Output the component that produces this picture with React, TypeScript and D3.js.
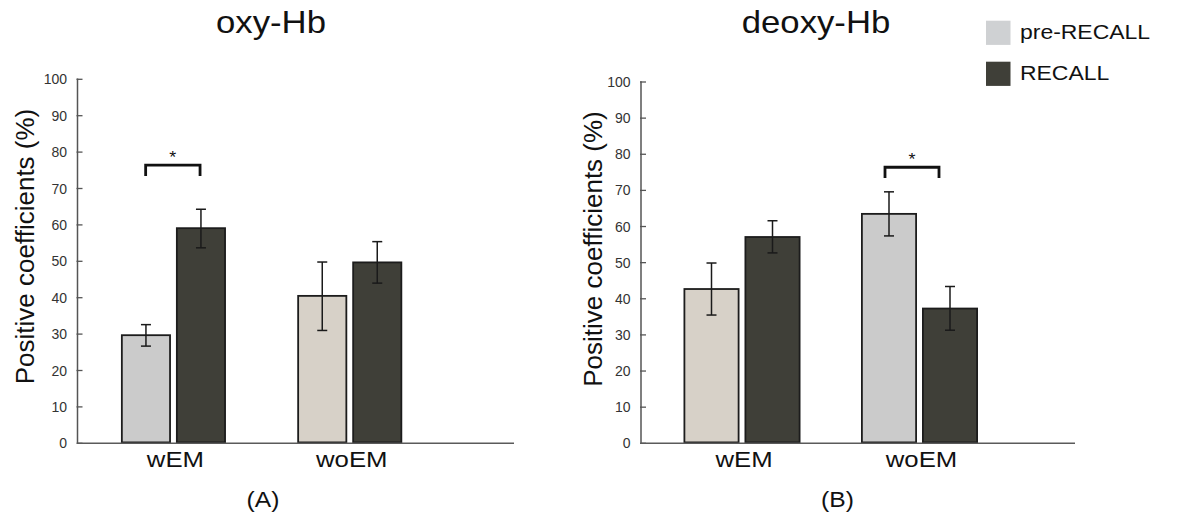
import React from "react";
import * as d3 from "d3";

const categories = ["wEM", "woEM"];
const seriesNames = ["pre-RECALL", "RECALL"];
const yTicks = [0, 10, 20, 30, 40, 50, 60, 70, 80, 90, 100];

const oxyPre = [29.7, 40.5];
const oxyPreLow = [26.7, 31.0];
const oxyPreHigh = [32.6, 49.8];
const oxyRecall = [59.1, 49.7];
const oxyRecallLow = [53.7, 44.0];
const oxyRecallHigh = [64.3, 55.4];

const deoxyPre = [42.7, 63.5];
const deoxyPreLow = [35.5, 57.4];
const deoxyPreHigh = [49.9, 69.6];
const deoxyRecall = [57.1, 37.3];
const deoxyRecallLow = [52.7, 31.3];
const deoxyRecallHigh = [61.6, 43.4];

const oxySignificant = "wEM";
const deoxySignificant = "woEM";
const bracketLevel = 76.4;
const bracketLeg = 3.0;

const LIGHT = "#cbcbcb";
const BEIGE = "#d7d1c8";
const DARK = "#3f3f38";
const LEGEND_LIGHT = "#cfd1d3";
const FONT = "'Liberation Sans', Arial, Helvetica, sans-serif";
const SX = 1.12;

type PanelProps = {
  title: string;
  letter: string;
  pre: number[];
  preLow: number[];
  preHigh: number[];
  rec: number[];
  recLow: number[];
  recHigh: number[];
  preColors: string[];
  sig: string;
  axisX0: number;
  axisX1: number;
  yTop: number;
  bandRange: [number, number];
  barW: number;
  gap: number;
  bracketHalf: number;
  bracketShift: number;
  titleX: number;
  letterX: number;
  ylabelX: number;
  ylabelY: number;
};

function Panel(p: PanelProps) {
  const y0 = 443.3;
  const y = d3.scaleLinear().domain([0, 100]).range([y0, p.yTop]);
  const x = d3.scaleBand().domain(categories).range(p.bandRange).padding(0);
  const half = p.barW + p.gap / 2;
  const xi = d3
    .scaleBand()
    .domain(seriesNames)
    .range([-half, half])
    .paddingInner(p.gap / (p.barW + p.gap))
    .paddingOuter(0);

  const bars: any[] = [];
  categories.forEach((c, i) => {
    const cx = (x(c) as number) + x.bandwidth() / 2;
    const vals = [
      { s: seriesNames[0], v: p.pre[i], lo: p.preLow[i], hi: p.preHigh[i], fill: p.preColors[i] },
      { s: seriesNames[1], v: p.rec[i], lo: p.recLow[i], hi: p.recHigh[i], fill: DARK },
    ];
    vals.forEach((d) => {
      const bx = cx + (xi(d.s) as number);
      const bw = xi.bandwidth();
      const mid = bx + bw / 2;
      bars.push(
        <g key={c + d.s}>
          <rect
            x={bx + 0.9}
            y={y(d.v)}
            width={bw - 1.8}
            height={y0 - y(d.v) - 0.9}
            fill={d.fill}
            stroke="#1c1c1c"
            strokeWidth={1.8}
          />
          <line x1={mid} x2={mid} y1={y(d.hi)} y2={y(d.lo)} stroke="#1a1a1a" strokeWidth={1.5} />
          <line x1={mid - 5} x2={mid + 5} y1={y(d.hi)} y2={y(d.hi)} stroke="#1a1a1a" strokeWidth={1.5} />
          <line x1={mid - 5} x2={mid + 5} y1={y(d.lo)} y2={y(d.lo)} stroke="#1a1a1a" strokeWidth={1.5} />
        </g>
      );
    });
  });

  const sc = (x(p.sig) as number) + x.bandwidth() / 2 + p.bracketShift;
  const by = y(bracketLevel);
  const bl = y(bracketLevel - bracketLeg);

  return (
    <g>
      <text
        transform={`translate(${p.titleX},33.3) scale(${SX},1)`}
        textAnchor="middle"
        fontSize={31}
        fontFamily={FONT}
        fill="#111"
      >
        {p.title}
      </text>
      <text
        transform={`translate(${p.ylabelX},${p.ylabelY}) rotate(-90)`}
        textAnchor="middle"
        fontSize={26}
        fontFamily={FONT}
        fill="#111"
      >
        Positive coefficients (%)
      </text>
      {yTicks.map((t) => (
        <g key={t}>
          <line x1={p.axisX0 - 1} x2={p.axisX0 + 5} y1={y(t)} y2={y(t)} stroke="#555" strokeWidth={1.3} />
          <text
            x={p.axisX0 - 10.5}
            y={y(t) + 5}
            textAnchor="end"
            fontSize={14}
            fontFamily={FONT}
            fill="#333"
          >
            {t}
          </text>
        </g>
      ))}
      {bars}
      <line x1={p.axisX0} x2={p.axisX0} y1={y(100) - 0.7} y2={y0} stroke="#555" strokeWidth={1.5} />
      <line x1={p.axisX0} x2={p.axisX1} y1={y0} y2={y0} stroke="#5a5a5a" strokeWidth={1.5} />
      {categories.map((c) => (
        <text
          key={c}
          transform={`translate(${(x(c) as number) + x.bandwidth() / 2 + 2},466.7) scale(${SX},1)`}
          textAnchor="middle"
          fontSize={23}
          fontFamily={FONT}
          fill="#111"
        >
          {c}
        </text>
      ))}
      <path
        d={`M${sc - p.bracketHalf},${bl}V${by}H${sc + p.bracketHalf}V${bl}`}
        fill="none"
        stroke="#111"
        strokeWidth={2.8}
      />
      <text
        transform={`translate(${sc},${by - 2}) scale(${SX},1)`}
        textAnchor="middle"
        fontSize={16}
        fontFamily={FONT}
        fill="#111"
      >
        *
      </text>
      <text
        transform={`translate(${p.letterX},507) scale(${SX},1)`}
        textAnchor="middle"
        fontSize={22}
        fontFamily={FONT}
        fill="#111"
      >
        {p.letter}
      </text>
    </g>
  );
}

export default function App() {
  const legendColors = [LEGEND_LIGHT, DARK];
  return (
    <svg
      width={1183}
      height={517}
      style={{ position: "absolute", left: 0, top: 0, background: "#fff" }}
    >
      <rect x={0} y={0} width={1183} height={517} fill="#fff" />
      <Panel
        title="oxy-Hb"
        letter="(A)"
        pre={oxyPre}
        preLow={oxyPreLow}
        preHigh={oxyPreHigh}
        rec={oxyRecall}
        recLow={oxyRecallLow}
        recHigh={oxyRecallHigh}
        preColors={[LIGHT, BEIGE]}
        sig={oxySignificant}
        axisX0={77.5}
        axisX1={514}
        yTop={79.3}
        bandRange={[85.3, 437.9]}
        barW={50}
        gap={5}
        bracketHalf={27.2}
        bracketShift={-0.6}
        titleX={271}
        letterX={263}
        ylabelX={34}
        ylabelY={246.5}
      />
      <Panel
        title="deoxy-Hb"
        letter="(B)"
        pre={deoxyPre}
        preLow={deoxyPreLow}
        preHigh={deoxyPreHigh}
        rec={deoxyRecall}
        recLow={deoxyRecallLow}
        recHigh={deoxyRecallHigh}
        preColors={[BEIGE, LIGHT]}
        sig={deoxySignificant}
        axisX0={641}
        axisX1={1075}
        yTop={82}
        bandRange={[653.25, 1008.25]}
        barW={56}
        gap={5}
        bracketHalf={27}
        bracketShift={-7.5}
        titleX={816}
        letterX={837.5}
        ylabelX={602}
        ylabelY={249}
      />
      {seriesNames.map((s, i) => (
        <g key={s}>
          <rect x={986} y={20.7 + i * 41} width={24.5} height={24.2} fill={legendColors[i]} />
          <text
            transform={`translate(1020,${39.3 + i * 40.7}) scale(${SX},1)`}
            fontSize={20.5}
            fontFamily={FONT}
            fill="#111"
          >
            {s}
          </text>
        </g>
      ))}
    </svg>
  );
}
